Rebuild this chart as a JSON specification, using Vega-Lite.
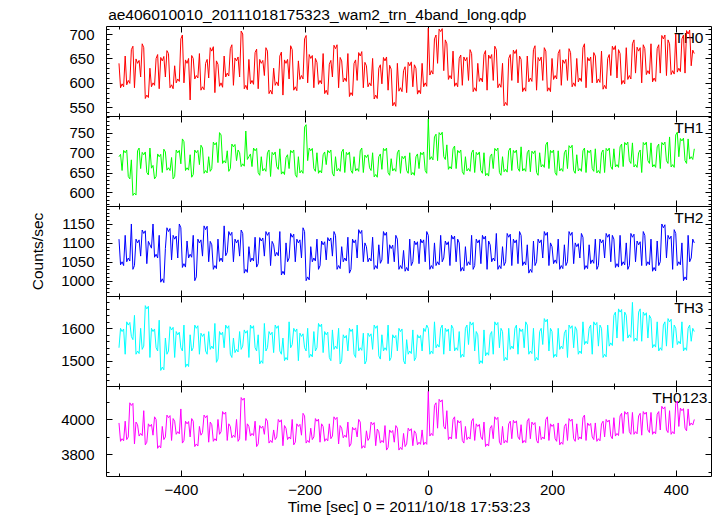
{
"$schema": "https://vega.github.io/schema/vega-lite/v6.json",
"padding": {"left": 30, "top": 7, "right": 5, "bottom": 2},
"title": {"text": "ae406010010_20111018175323_wam2_trn_4band_long.qdp", "anchor": "start", "fontSize": 15.5, "fontWeight": "normal", "color": "#000", "offset": 2, "dx": 78},
"spacing": 0,
"bounds": "flush",
"config": {
  "font": "Liberation Sans",
  "view": {"stroke": "#000", "strokeWidth": 1},
  "axis": {"grid": false, "domain": false, "labelFont": "Liberation Sans", "labelFontSize": 15, "labelColor": "#000", "tickColor": "#000", "tickWidth": 1, "titleFont": "Liberation Sans", "titleFontSize": 15.5, "titleFontWeight": "normal", "titleColor": "#000", "format": "d"},
  "title": {"font": "Liberation Sans", "fontWeight": "normal", "color": "#000"}
},
"datasets": {"lc": [
{"t":-500,"a":640,"b":690,"c":1110,"d":1540,"e":3980},
{"t":-495,"a":598,"b":655,"c":1050,"d":1590,"e":3890},
{"t":-490,"a":655,"b":700,"c":1120,"d":1520,"e":3990},
{"t":-485,"a":605,"b":640,"c":1060,"d":1610,"e":3900},
{"t":-480,"a":668,"b":682,"c":1150,"d":1575,"e":4080},
{"t":-475,"a":590,"b":598,"c":1040,"d":1640,"e":3860},
{"t":-470,"a":640,"b":705,"c":1100,"d":1530,"e":3970},
{"t":-465,"a":612,"b":660,"c":1065,"d":1600,"e":3920},
{"t":-460,"a":672,"b":695,"c":1125,"d":1545,"e":4050},
{"t":-455,"a":575,"b":650,"c":1045,"d":1660,"e":3870},
{"t":-450,"a":630,"b":712,"c":1095,"d":1510,"e":3960},
{"t":-445,"a":600,"b":668,"c":1150,"d":1590,"e":3910},
{"t":-440,"a":650,"b":640,"c":1070,"d":1540,"e":4000},
{"t":-435,"a":588,"b":690,"c":1120,"d":1625,"e":3850},
{"t":-430,"a":645,"b":650,"c":1005,"d":1480,"e":3960},
{"t":-425,"a":612,"b":702,"c":1085,"d":1570,"e":3900},
{"t":-420,"a":660,"b":662,"c":1130,"d":1530,"e":4010},
{"t":-415,"a":596,"b":688,"c":1055,"d":1595,"e":3880},
{"t":-410,"a":635,"b":640,"c":1110,"d":1510,"e":3990},
{"t":-405,"a":608,"b":700,"c":1060,"d":1580,"e":3930},
{"t":-400,"a":690,"b":672,"c":1140,"d":1540,"e":4060},
{"t":-395,"a":600,"b":728,"c":1045,"d":1610,"e":3880},
{"t":-390,"a":640,"b":662,"c":1105,"d":1490,"e":3975},
{"t":-385,"a":565,"b":695,"c":1070,"d":1580,"e":3900},
{"t":-380,"a":650,"b":645,"c":1120,"d":1540,"e":3990},
{"t":-375,"a":615,"b":700,"c":1010,"d":1600,"e":3860},
{"t":-370,"a":660,"b":670,"c":1100,"d":1520,"e":3960},
{"t":-365,"a":592,"b":712,"c":1065,"d":1575,"e":3925},
{"t":-360,"a":640,"b":655,"c":1135,"d":1530,"e":4010},
{"t":-355,"a":610,"b":690,"c":1050,"d":1590,"e":3870},
{"t":-350,"a":665,"b":660,"c":1095,"d":1545,"e":3970},
{"t":-345,"a":580,"b":720,"c":1040,"d":1615,"e":3890},
{"t":-340,"a":638,"b":675,"c":1110,"d":1505,"e":4000},
{"t":-335,"a":600,"b":745,"c":1060,"d":1580,"e":3930},
{"t":-330,"a":655,"b":680,"c":1145,"d":1540,"e":4030},
{"t":-325,"a":620,"b":705,"c":1075,"d":1600,"e":3880},
{"t":-320,"a":670,"b":660,"c":1120,"d":1520,"e":3960},
{"t":-315,"a":595,"b":715,"c":1050,"d":1570,"e":3910},
{"t":-310,"a":645,"b":680,"c":1100,"d":1535,"e":4000},
{"t":-305,"a":612,"b":700,"c":1065,"d":1590,"e":3890},
{"t":-300,"a":700,"b":672,"c":1125,"d":1545,"e":4110},
{"t":-295,"a":595,"b":755,"c":1030,"d":1585,"e":3880},
{"t":-290,"a":648,"b":690,"c":1090,"d":1510,"e":3960},
{"t":-285,"a":605,"b":665,"c":1060,"d":1600,"e":3920},
{"t":-280,"a":662,"b":705,"c":1115,"d":1540,"e":3990},
{"t":-275,"a":588,"b":650,"c":1045,"d":1580,"e":3860},
{"t":-270,"a":640,"b":690,"c":1105,"d":1500,"e":3950},
{"t":-265,"a":615,"b":660,"c":1065,"d":1615,"e":3915},
{"t":-260,"a":665,"b":700,"c":1120,"d":1540,"e":3990},
{"t":-255,"a":585,"b":640,"c":1040,"d":1580,"e":3880},
{"t":-250,"a":630,"b":695,"c":1095,"d":1525,"e":3940},
{"t":-245,"a":602,"b":665,"c":1075,"d":1600,"e":3900},
{"t":-240,"a":655,"b":710,"c":1130,"d":1530,"e":3985},
{"t":-235,"a":575,"b":652,"c":1025,"d":1570,"e":3850},
{"t":-230,"a":640,"b":688,"c":1100,"d":1510,"e":3950},
{"t":-225,"a":608,"b":660,"c":1060,"d":1620,"e":3900},
{"t":-220,"a":668,"b":700,"c":1115,"d":1550,"e":4000},
{"t":-215,"a":592,"b":645,"c":1050,"d":1590,"e":3870},
{"t":-210,"a":645,"b":690,"c":1100,"d":1500,"e":3960},
{"t":-205,"a":615,"b":655,"c":1060,"d":1575,"e":3910},
{"t":-200,"a":690,"b":765,"c":1130,"d":1540,"e":4020},
{"t":-195,"a":600,"b":680,"c":1010,"d":1600,"e":3880},
{"t":-190,"a":650,"b":705,"c":1090,"d":1520,"e":3950},
{"t":-185,"a":590,"b":660,"c":1060,"d":1590,"e":3900},
{"t":-180,"a":642,"b":700,"c":1110,"d":1540,"e":3990},
{"t":-175,"a":605,"b":655,"c":1040,"d":1605,"e":3870},
{"t":-170,"a":660,"b":695,"c":1095,"d":1525,"e":3960},
{"t":-165,"a":585,"b":670,"c":1055,"d":1580,"e":3890},
{"t":-160,"a":638,"b":700,"c":1105,"d":1510,"e":3975},
{"t":-155,"a":612,"b":648,"c":1065,"d":1595,"e":3905},
{"t":-150,"a":670,"b":690,"c":1120,"d":1545,"e":4000},
{"t":-145,"a":590,"b":660,"c":1040,"d":1600,"e":3860},
{"t":-140,"a":645,"b":702,"c":1090,"d":1500,"e":3950},
{"t":-135,"a":610,"b":650,"c":1060,"d":1570,"e":3910},
{"t":-130,"a":660,"b":695,"c":1115,"d":1530,"e":3985},
{"t":-125,"a":580,"b":655,"c":1030,"d":1590,"e":3860},
{"t":-120,"a":640,"b":690,"c":1100,"d":1520,"e":3940},
{"t":-115,"a":605,"b":660,"c":1060,"d":1610,"e":3900},
{"t":-110,"a":655,"b":705,"c":1125,"d":1540,"e":3985},
{"t":-105,"a":590,"b":650,"c":1050,"d":1585,"e":3850},
{"t":-100,"a":635,"b":688,"c":1090,"d":1500,"e":3935},
{"t":-95,"a":600,"b":662,"c":1060,"d":1575,"e":3895},
{"t":-90,"a":650,"b":700,"c":1115,"d":1535,"e":3970},
{"t":-85,"a":575,"b":645,"c":1040,"d":1600,"e":3850},
{"t":-80,"a":630,"b":690,"c":1095,"d":1515,"e":3930},
{"t":-75,"a":598,"b":658,"c":1055,"d":1580,"e":3880},
{"t":-70,"a":645,"b":705,"c":1120,"d":1540,"e":3965},
{"t":-65,"a":585,"b":650,"c":1045,"d":1610,"e":3840},
{"t":-60,"a":628,"b":685,"c":1085,"d":1510,"e":3925},
{"t":-55,"a":560,"b":660,"c":1050,"d":1570,"e":3870},
{"t":-50,"a":640,"b":700,"c":1110,"d":1530,"e":3950},
{"t":-45,"a":590,"b":648,"c":1040,"d":1590,"e":3840},
{"t":-40,"a":625,"b":685,"c":1080,"d":1500,"e":3920},
{"t":-35,"a":580,"b":655,"c":1035,"d":1565,"e":3860},
{"t":-30,"a":635,"b":700,"c":1110,"d":1530,"e":3935},
{"t":-25,"a":592,"b":650,"c":1050,"d":1595,"e":3850},
{"t":-20,"a":630,"b":690,"c":1095,"d":1510,"e":3920},
{"t":-15,"a":585,"b":660,"c":1045,"d":1570,"e":3870},
{"t":-10,"a":640,"b":695,"c":1100,"d":1530,"e":3940},
{"t":-5,"a":600,"b":655,"c":1050,"d":1590,"e":3870},
{"t":0,"a":712,"b":785,"c":1120,"d":1600,"e":4160},
{"t":5,"a":625,"b":690,"c":1040,"d":1530,"e":3920},
{"t":10,"a":690,"b":740,"c":1100,"d":1620,"e":4080},
{"t":15,"a":640,"b":680,"c":1050,"d":1550,"e":3950},
{"t":20,"a":705,"b":745,"c":1120,"d":1600,"e":4100},
{"t":25,"a":625,"b":690,"c":1060,"d":1520,"e":3960},
{"t":30,"a":680,"b":720,"c":1095,"d":1590,"e":4050},
{"t":35,"a":615,"b":665,"c":1040,"d":1530,"e":3900},
{"t":40,"a":665,"b":710,"c":1110,"d":1600,"e":4000},
{"t":45,"a":600,"b":660,"c":1050,"d":1540,"e":3890},
{"t":50,"a":650,"b":700,"c":1100,"d":1590,"e":3980},
{"t":55,"a":595,"b":652,"c":1035,"d":1520,"e":3880},
{"t":60,"a":645,"b":690,"c":1090,"d":1600,"e":3960},
{"t":65,"a":605,"b":660,"c":1050,"d":1550,"e":3900},
{"t":70,"a":660,"b":700,"c":1120,"d":1610,"e":3990},
{"t":75,"a":590,"b":650,"c":1040,"d":1530,"e":3880},
{"t":80,"a":640,"b":695,"c":1100,"d":1580,"e":3960},
{"t":85,"a":610,"b":655,"c":1045,"d":1500,"e":3900},
{"t":90,"a":658,"b":700,"c":1110,"d":1595,"e":3985},
{"t":95,"a":585,"b":648,"c":1030,"d":1525,"e":3860},
{"t":100,"a":650,"b":690,"c":1095,"d":1580,"e":3950},
{"t":105,"a":605,"b":660,"c":1060,"d":1520,"e":3890},
{"t":110,"a":668,"b":705,"c":1125,"d":1610,"e":4000},
{"t":115,"a":598,"b":650,"c":1040,"d":1540,"e":3870},
{"t":120,"a":640,"b":690,"c":1090,"d":1590,"e":3960},
{"t":125,"a":560,"b":658,"c":1050,"d":1510,"e":3880},
{"t":130,"a":650,"b":705,"c":1115,"d":1600,"e":3975},
{"t":135,"a":605,"b":655,"c":1040,"d":1545,"e":3890},
{"t":140,"a":660,"b":700,"c":1100,"d":1600,"e":3980},
{"t":145,"a":600,"b":660,"c":1045,"d":1520,"e":3900},
{"t":150,"a":648,"b":715,"c":1120,"d":1590,"e":3970},
{"t":155,"a":590,"b":660,"c":1050,"d":1540,"e":3880},
{"t":160,"a":655,"b":700,"c":1095,"d":1610,"e":3990},
{"t":165,"a":610,"b":652,"c":1030,"d":1530,"e":3890},
{"t":170,"a":668,"b":698,"c":1105,"d":1600,"e":3970},
{"t":175,"a":585,"b":650,"c":1050,"d":1510,"e":3880},
{"t":180,"a":645,"b":700,"c":1100,"d":1590,"e":3960},
{"t":185,"a":605,"b":670,"c":1060,"d":1550,"e":3900},
{"t":190,"a":665,"b":720,"c":1120,"d":1620,"e":4000},
{"t":195,"a":590,"b":660,"c":1040,"d":1530,"e":3880},
{"t":200,"a":650,"b":700,"c":1090,"d":1590,"e":3960},
{"t":205,"a":615,"b":650,"c":1055,"d":1520,"e":3890},
{"t":210,"a":660,"b":705,"c":1110,"d":1600,"e":3980},
{"t":215,"a":595,"b":660,"c":1040,"d":1545,"e":3870},
{"t":220,"a":640,"b":700,"c":1095,"d":1585,"e":3960},
{"t":225,"a":605,"b":660,"c":1050,"d":1510,"e":3880},
{"t":230,"a":662,"b":712,"c":1120,"d":1600,"e":3990},
{"t":235,"a":600,"b":655,"c":1045,"d":1540,"e":3890},
{"t":240,"a":650,"b":695,"c":1090,"d":1595,"e":3975},
{"t":245,"a":610,"b":660,"c":1060,"d":1530,"e":3900},
{"t":250,"a":672,"b":705,"c":1115,"d":1620,"e":4010},
{"t":255,"a":590,"b":650,"c":1040,"d":1560,"e":3880},
{"t":260,"a":645,"b":700,"c":1095,"d":1600,"e":3965},
{"t":265,"a":600,"b":660,"c":1055,"d":1520,"e":3900},
{"t":270,"a":655,"b":710,"c":1110,"d":1610,"e":3980},
{"t":275,"a":608,"b":655,"c":1040,"d":1545,"e":3890},
{"t":280,"a":665,"b":700,"c":1100,"d":1600,"e":3975},
{"t":285,"a":595,"b":650,"c":1060,"d":1520,"e":3900},
{"t":290,"a":650,"b":705,"c":1115,"d":1610,"e":3985},
{"t":295,"a":615,"b":665,"c":1050,"d":1555,"e":3905},
{"t":300,"a":668,"b":710,"c":1110,"d":1640,"e":4010},
{"t":305,"a":610,"b":670,"c":1045,"d":1570,"e":3920},
{"t":310,"a":660,"b":715,"c":1120,"d":1650,"e":4020},
{"t":315,"a":605,"b":665,"c":1050,"d":1560,"e":3920},
{"t":320,"a":672,"b":720,"c":1100,"d":1640,"e":4030},
{"t":325,"a":615,"b":680,"c":1040,"d":1580,"e":3930},
{"t":330,"a":680,"b":725,"c":1115,"d":1680,"e":4040},
{"t":335,"a":620,"b":670,"c":1050,"d":1570,"e":3930},
{"t":340,"a":665,"b":700,"c":1095,"d":1650,"e":4020},
{"t":345,"a":600,"b":650,"c":1040,"d":1560,"e":3910},
{"t":350,"a":670,"b":720,"c":1120,"d":1640,"e":4030},
{"t":355,"a":625,"b":680,"c":1050,"d":1570,"e":3940},
{"t":360,"a":680,"b":725,"c":1110,"d":1630,"e":4040},
{"t":365,"a":610,"b":670,"c":1035,"d":1550,"e":3930},
{"t":370,"a":670,"b":715,"c":1105,"d":1620,"e":4030},
{"t":375,"a":620,"b":660,"c":1050,"d":1540,"e":3940},
{"t":380,"a":690,"b":720,"c":1140,"d":1610,"e":4060},
{"t":385,"a":615,"b":680,"c":1060,"d":1545,"e":3940},
{"t":390,"a":680,"b":740,"c":1110,"d":1620,"e":4050},
{"t":395,"a":625,"b":670,"c":1030,"d":1540,"e":3930},
{"t":400,"a":700,"b":745,"c":1125,"d":1600,"e":4090},
{"t":405,"a":630,"b":690,"c":1050,"d":1560,"e":3960},
{"t":410,"a":690,"b":730,"c":1100,"d":1620,"e":4050},
{"t":415,"a":620,"b":680,"c":1010,"d":1540,"e":3950},
{"t":420,"a":700,"b":735,"c":1120,"d":1600,"e":4060},
{"t":425,"a":635,"b":690,"c":1060,"d":1560,"e":3980},
{"t":430,"a":660,"b":710,"c":1100,"d":1590,"e":4000},
{"t":-497.5,"a":590,"b":696,"c":1042,"d":1600,"e":3875},
{"t":-492.5,"a":592,"b":706,"c":1040,"d":1598,"e":3878},
{"t":-487.5,"a":596,"b":707,"c":1050,"d":1620,"e":3885},
{"t":-482.5,"a":599,"b":634,"c":1052,"d":1618,"e":4095},
{"t":-477.5,"a":675,"b":592,"c":1030,"d":1565,"e":4092},
{"t":-472.5,"a":649,"b":593,"c":1110,"d":1520,"e":3985},
{"t":-467.5,"a":646,"b":712,"c":1108,"d":1522,"e":3905},
{"t":-462.5,"a":680,"b":701,"c":1134,"d":1535,"e":3908},
{"t":-457.5,"a":568,"b":702,"c":1132,"d":1670,"e":3855},
{"t":-452.5,"a":570,"b":644,"c":1104,"d":1668,"e":3975},
{"t":-447.5,"a":592,"b":661,"c":1086,"d":1600,"e":3972},
{"t":-442.5,"a":595,"b":634,"c":1062,"d":1598,"e":4015},
{"t":-437.5,"a":658,"b":697,"c":1060,"d":1530,"e":3835},
{"t":-432.5,"a":652,"b":696,"c":996,"d":1470,"e":3838},
{"t":-427.5,"a":654,"b":709,"c":995,"d":1472,"e":3885},
{"t":-422.5,"a":666,"b":656,"c":1140,"d":1520,"e":4025},
{"t":-417.5,"a":590,"b":655,"c":1138,"d":1605,"e":4022},
{"t":-412.5,"a":588,"b":634,"c":1120,"d":1603,"e":4005},
{"t":-407.5,"a":600,"b":707,"c":1118,"d":1590,"e":3915},
{"t":-402.5,"a":603,"b":706,"c":1150,"d":1588,"e":3918},
{"t":-397.5,"a":698,"b":735,"c":1035,"d":1530,"e":3865},
{"t":-392.5,"a":647,"b":655,"c":1036,"d":1480,"e":3990},
{"t":-387.5,"a":650,"b":656,"c":1060,"d":1482,"e":3988},
{"t":-382.5,"a":656,"b":638,"c":1062,"d":1530,"e":4005},
{"t":-377.5,"a":608,"b":707,"c":1000,"d":1610,"e":3845},
{"t":-372.5,"a":610,"b":706,"c":1110,"d":1608,"e":3848},
{"t":-367.5,"a":585,"b":719,"c":1108,"d":1585,"e":3910},
{"t":-362.5,"a":586,"b":648,"c":1145,"d":1583,"e":4025},
{"t":-357.5,"a":648,"b":649,"c":1144,"d":1520,"e":4022},
{"t":-352.5,"a":672,"b":653,"c":1104,"d":1535,"e":3985},
{"t":-347.5,"a":674,"b":727,"c":1030,"d":1537,"e":3875},
{"t":-342.5,"a":645,"b":726,"c":1032,"d":1495,"e":3878},
{"t":-337.5,"a":593,"b":751,"c":1051,"d":1590,"e":3915},
{"t":-332.5,"a":591,"b":673,"c":1050,"d":1588,"e":4045},
{"t":-327.5,"a":612,"b":674,"c":1066,"d":1610,"e":4042},
{"t":-322.5,"a":614,"b":653,"c":1130,"d":1608,"e":3975},
{"t":-317.5,"a":678,"b":722,"c":1128,"d":1510,"e":3895},
{"t":-312.5,"a":651,"b":721,"c":1110,"d":1525,"e":3898},
{"t":-307.5,"a":653,"b":707,"c":1108,"d":1527,"e":3875},
{"t":-302.5,"a":706,"b":665,"c":1134,"d":1535,"e":4125},
{"t":-297.5,"a":588,"b":666,"c":1020,"d":1595,"e":4122},
{"t":-292.5,"a":586,"b":683,"c":1022,"d":1593,"e":3975},
{"t":-287.5,"a":598,"b":697,"c":1050,"d":1610,"e":3905},
{"t":-282.5,"a":597,"b":712,"c":1052,"d":1608,"e":3908},
{"t":-277.5,"a":669,"b":711,"c":1036,"d":1530,"e":3845},
{"t":-272.5,"a":648,"b":643,"c":1114,"d":1490,"e":3965},
{"t":-267.5,"a":646,"b":654,"c":1113,"d":1492,"e":3962},
{"t":-262.5,"a":672,"b":653,"c":1130,"d":1530,"e":4005},
{"t":-257.5,"a":578,"b":707,"c":1128,"d":1590,"e":3865},
{"t":-252.5,"a":577,"b":701,"c":1104,"d":1588,"e":3868},
{"t":-247.5,"a":595,"b":702,"c":1065,"d":1610,"e":3885},
{"t":-242.5,"a":594,"b":658,"c":1066,"d":1608,"e":4000},
{"t":-237.5,"a":663,"b":646,"c":1015,"d":1520,"e":3998},
{"t":-232.5,"a":647,"b":645,"c":1016,"d":1500,"e":3965},
{"t":-227.5,"a":648,"b":695,"c":1050,"d":1502,"e":3885},
{"t":-222.5,"a":676,"b":706,"c":1125,"d":1540,"e":3888},
{"t":-217.5,"a":585,"b":707,"c":1123,"d":1600,"e":3855},
{"t":-212.5,"a":584,"b":638,"c":1110,"d":1598,"e":3975},
{"t":-207.5,"a":607,"b":649,"c":1108,"d":1585,"e":3972},
{"t":-202.5,"a":608,"b":648,"c":1140,"d":1583,"e":4035},
{"t":-197.5,"a":697,"b":771,"c":1000,"d":1530,"e":3865},
{"t":-192.5,"a":658,"b":712,"c":1002,"d":1510,"e":3868},
{"t":-187.5,"a":656,"b":711,"c":1050,"d":1512,"e":3885},
{"t":-182.5,"a":650,"b":653,"c":1052,"d":1530,"e":4005},
{"t":-177.5,"a":597,"b":648,"c":1030,"d":1615,"e":4002},
{"t":-172.5,"a":598,"b":649,"c":1105,"d":1613,"e":3975},
{"t":-167.5,"a":578,"b":702,"c":1103,"d":1590,"e":3875},
{"t":-162.5,"a":576,"b":706,"c":1114,"d":1588,"e":3878},
{"t":-157.5,"a":646,"b":707,"c":1113,"d":1500,"e":3890},
{"t":-152.5,"a":677,"b":641,"c":1130,"d":1535,"e":4015},
{"t":-147.5,"a":678,"b":654,"c":1030,"d":1537,"e":4012},
{"t":-142.5,"a":652,"b":653,"c":1032,"d":1490,"e":3965},
{"t":-137.5,"a":602,"b":709,"c":1050,"d":1580,"e":3895},
{"t":-132.5,"a":603,"b":701,"c":1052,"d":1578,"e":3898},
{"t":-127.5,"a":572,"b":702,"c":1020,"d":1600,"e":3845},
{"t":-122.5,"a":574,"b":648,"c":1110,"d":1598,"e":3955},
{"t":-117.5,"a":647,"b":654,"c":1108,"d":1510,"e":3952},
{"t":-112.5,"a":662,"b":653,"c":1135,"d":1530,"e":4000},
{"t":-107.5,"a":664,"b":712,"c":1133,"d":1532,"e":3835},
{"t":-102.5,"a":642,"b":694,"c":1100,"d":1490,"e":3838},
{"t":-97.5,"a":592,"b":695,"c":1050,"d":1585,"e":3880},
{"t":-92.5,"a":594,"b":655,"c":1052,"d":1583,"e":3985},
{"t":-87.5,"a":567,"b":639,"c":1030,"d":1610,"e":3982},
{"t":-82.5,"a":568,"b":638,"c":1032,"d":1608,"e":3945},
{"t":-77.5,"a":637,"b":697,"c":1046,"d":1505,"e":3865},
{"t":-72.5,"a":652,"b":711,"c":1130,"d":1530,"e":3868},
{"t":-67.5,"a":653,"b":712,"c":1128,"d":1532,"e":3825},
{"t":-62.5,"a":636,"b":643,"c":1095,"d":1500,"e":3940},
{"t":-57.5,"a":553,"b":654,"c":1094,"d":1580,"e":3937},
{"t":-52.5,"a":552,"b":653,"c":1120,"d":1578,"e":3965},
{"t":-47.5,"a":583,"b":707,"c":1030,"d":1600,"e":3825},
{"t":-42.5,"a":582,"b":691,"c":1032,"d":1598,"e":3828},
{"t":-37.5,"a":633,"b":692,"c":1025,"d":1490,"e":3845},
{"t":-32.5,"a":642,"b":648,"c":1026,"d":1520,"e":3950},
{"t":-27.5,"a":643,"b":644,"c":1040,"d":1522,"e":3947},
{"t":-22.5,"a":637,"b":643,"c":1105,"d":1500,"e":3935},
{"t":-17.5,"a":577,"b":697,"c":1103,"d":1580,"e":3855},
{"t":-12.5,"a":578,"b":701,"c":1110,"d":1578,"e":3858},
{"t":-7.5,"a":592,"b":702,"c":1108,"d":1600,"e":3855},
{"t":-2.5,"a":593,"b":648,"c":1130,"d":1610,"e":3858},
{"t":2.5,"a":616,"b":683,"c":1030,"d":1520,"e":3905},
{"t":7.5,"a":618,"b":682,"c":1032,"d":1522,"e":3908},
{"t":12.5,"a":698,"b":747,"c":1040,"d":1540,"e":4095},
{"t":17.5,"a":710,"b":751,"c":1042,"d":1542,"e":4115},
{"t":22.5,"a":711,"b":752,"c":1050,"d":1610,"e":4112},
{"t":27.5,"a":688,"b":683,"c":1105,"d":1600,"e":3945},
{"t":32.5,"a":607,"b":658,"c":1103,"d":1598,"e":3885},
{"t":37.5,"a":608,"b":659,"c":1120,"d":1610,"e":3888},
{"t":42.5,"a":593,"b":717,"c":1118,"d":1530,"e":4015},
{"t":47.5,"a":592,"b":706,"c":1110,"d":1532,"e":3995},
{"t":52.5,"a":657,"b":707,"c":1025,"d":1510,"e":3992},
{"t":57.5,"a":653,"b":645,"c":1026,"d":1512,"e":3865},
{"t":62.5,"a":652,"b":654,"c":1040,"d":1610,"e":3885},
{"t":67.5,"a":668,"b":653,"c":1042,"d":1620,"e":3888},
{"t":72.5,"a":582,"b":707,"c":1030,"d":1618,"e":4005},
{"t":77.5,"a":583,"b":701,"c":1110,"d":1590,"e":3975},
{"t":82.5,"a":603,"b":702,"c":1108,"d":1490,"e":3972},
{"t":87.5,"a":602,"b":648,"c":1120,"d":1492,"e":3885},
{"t":92.5,"a":666,"b":642,"c":1118,"d":1515,"e":3845},
{"t":97.5,"a":657,"b":641,"c":1105,"d":1517,"e":3848},
{"t":102.5,"a":658,"b":697,"c":1050,"d":1590,"e":3965},
{"t":107.5,"a":675,"b":711,"c":1052,"d":1620,"e":4015},
{"t":112.5,"a":590,"b":712,"c":1030,"d":1618,"e":4012},
{"t":117.5,"a":591,"b":643,"c":1032,"d":1600,"e":3855},
{"t":122.5,"a":553,"b":652,"c":1040,"d":1500,"e":3865},
{"t":127.5,"a":554,"b":651,"c":1125,"d":1502,"e":3868},
{"t":132.5,"a":658,"b":712,"c":1123,"d":1535,"e":3990},
{"t":137.5,"a":667,"b":706,"c":1110,"d":1537,"e":3995},
{"t":142.5,"a":668,"b":707,"c":1108,"d":1610,"e":3992},
{"t":147.5,"a":655,"b":653,"c":1130,"d":1600,"e":3885},
{"t":152.5,"a":582,"b":654,"c":1040,"d":1598,"e":3865},
{"t":157.5,"a":583,"b":653,"c":1042,"d":1620,"e":3868},
{"t":162.5,"a":602,"b":707,"c":1020,"d":1520,"e":4005},
{"t":167.5,"a":603,"b":704,"c":1022,"d":1522,"e":3985},
{"t":172.5,"a":676,"b":705,"c":1040,"d":1500,"e":3982},
{"t":177.5,"a":652,"b":643,"c":1110,"d":1502,"e":3865},
{"t":182.5,"a":653,"b":664,"c":1108,"d":1600,"e":3885},
{"t":187.5,"a":672,"b":663,"c":1130,"d":1630,"e":3888},
{"t":192.5,"a":583,"b":727,"c":1128,"d":1628,"e":4015},
{"t":197.5,"a":582,"b":706,"c":1100,"d":1600,"e":3975},
{"t":202.5,"a":607,"b":707,"c":1045,"d":1510,"e":3972},
{"t":207.5,"a":608,"b":643,"c":1046,"d":1512,"e":3875},
{"t":212.5,"a":668,"b":654,"c":1030,"d":1535,"e":3855},
{"t":217.5,"a":647,"b":653,"c":1032,"d":1537,"e":3858},
{"t":222.5,"a":648,"b":707,"c":1040,"d":1595,"e":3975},
{"t":227.5,"a":670,"b":718,"c":1130,"d":1610,"e":4005},
{"t":232.5,"a":592,"b":719,"c":1128,"d":1608,"e":4002},
{"t":237.5,"a":593,"b":648,"c":1100,"d":1605,"e":3875},
{"t":242.5,"a":602,"b":654,"c":1098,"d":1520,"e":3885},
{"t":247.5,"a":603,"b":653,"c":1125,"d":1522,"e":3888},
{"t":252.5,"a":680,"b":712,"c":1030,"d":1550,"e":4025},
{"t":257.5,"a":652,"b":706,"c":1032,"d":1552,"e":3980},
{"t":262.5,"a":653,"b":707,"c":1045,"d":1610,"e":3977},
{"t":267.5,"a":662,"b":653,"c":1046,"d":1620,"e":3885},
{"t":272.5,"a":600,"b":649,"c":1030,"d":1618,"e":3875},
{"t":277.5,"a":601,"b":648,"c":1110,"d":1610,"e":3878},
{"t":282.5,"a":587,"b":707,"c":1108,"d":1510,"e":3990},
{"t":287.5,"a":588,"b":711,"c":1125,"d":1512,"e":4000},
{"t":292.5,"a":658,"b":712,"c":1123,"d":1545,"e":3997},
{"t":297.5,"a":675,"b":658,"c":1120,"d":1547,"e":3890},
{"t":302.5,"a":676,"b":664,"c":1035,"d":1650,"e":3905},
{"t":307.5,"a":668,"b":663,"c":1036,"d":1660,"e":3908},
{"t":312.5,"a":597,"b":722,"c":1040,"d":1658,"e":4035},
{"t":317.5,"a":598,"b":726,"c":1042,"d":1650,"e":4045},
{"t":322.5,"a":607,"b":727,"c":1030,"d":1570,"e":4042},
{"t":327.5,"a":608,"b":673,"c":1125,"d":1572,"e":3915},
{"t":332.5,"a":688,"b":664,"c":1123,"d":1560,"e":3915},
{"t":337.5,"a":673,"b":663,"c":1105,"d":1562,"e":3918},
{"t":342.5,"a":672,"b":707,"c":1103,"d":1660,"e":4035},
{"t":347.5,"a":678,"b":726,"c":1130,"d":1650,"e":4045},
{"t":352.5,"a":617,"b":727,"c":1040,"d":1648,"e":4042},
{"t":357.5,"a":618,"b":673,"c":1042,"d":1640,"e":3925},
{"t":362.5,"a":602,"b":664,"c":1025,"d":1540,"e":3915},
{"t":367.5,"a":603,"b":663,"c":1026,"d":1542,"e":3918},
{"t":372.5,"a":678,"b":722,"c":1040,"d":1530,"e":4045},
{"t":377.5,"a":697,"b":726,"c":1150,"d":1532,"e":4075},
{"t":382.5,"a":698,"b":727,"c":1148,"d":1620,"e":4072},
{"t":387.5,"a":688,"b":673,"c":1120,"d":1630,"e":3925},
{"t":392.5,"a":617,"b":664,"c":1118,"d":1628,"e":3915},
{"t":397.5,"a":618,"b":663,"c":1135,"d":1610,"e":3918},
{"t":402.5,"a":622,"b":752,"c":1040,"d":1550,"e":4105},
{"t":407.5,"a":623,"b":736,"c":1042,"d":1552,"e":4065},
{"t":412.5,"a":698,"b":737,"c":1000,"d":1530,"e":4062},
{"t":417.5,"a":707,"b":673,"c":1002,"d":1532,"e":3935},
{"t":422.5,"a":708,"b":684,"c":1050,"d":1610,"e":3965},
{"t":427.5,"a":667,"b":683,"c":1110,"d":1600,"e":3968}
]},
"data": {"name": "lc"},
"vconcat": [
{
 "width": 605, "height": 90,
 "layer": [
  {"mark": {"type": "line", "color": "#ff0000", "strokeWidth": 1, "clip": true},
   "encoding": {
    "x": {"field": "t", "type": "quantitative", "scale": {"domain": [-521, 457], "nice": false, "zero": false}, "axis": {"orient": "bottom", "values": [-400,-200,0,200,400], "labels": false, "tickSize": -6, "title": null}},
    "y": {"field": "a", "type": "quantitative", "scale": {"domain": [532.2, 716.4], "nice": false, "zero": false}, "axis": {"orient": "left", "values": [550,600,650,700], "tickSize": -6, "labelPadding": 18, "title": null}}}},
  {"mark": {"type": "line", "opacity": 0},
   "encoding": {
    "x": {"field": "t", "type": "quantitative", "axis": {"orient": "top", "values": [-400,-200,0,200,400], "labels": false, "tickSize": -6, "title": "TH0", "titleX": 597, "titleY": 16, "titleAlign": "right", "titleBaseline": "alphabetic", "titleAngle": 0}},
    "y": {"field": "a", "type": "quantitative", "axis": {"orient": "right", "values": [550,600,650,700], "labels": false, "tickSize": -6, "title": null}}}},
  {"mark": {"type": "line", "opacity": 0},
   "encoding": {
    "x": {"field": "t", "type": "quantitative", "axis": {"orient": "bottom", "values": [-500,-300,-100,100,300], "labels": false, "tickSize": -3, "title": null}},
    "y": {"field": "a", "type": "quantitative", "axis": {"orient": "left", "values": [540,560,570,580,590,610,620,630,640,660,670,680,690,710], "labels": false, "tickSize": -3, "title": null}}}},
  {"mark": {"type": "line", "opacity": 0},
   "encoding": {
    "x": {"field": "t", "type": "quantitative", "axis": {"orient": "top", "values": [-500,-300,-100,100,300], "labels": false, "tickSize": -3, "title": null}},
    "y": {"field": "a", "type": "quantitative", "axis": {"orient": "right", "values": [540,560,570,580,590,610,620,630,640,660,670,680,690,710], "labels": false, "tickSize": -3, "title": null}}}}
 ],
 "resolve": {"axis": {"x": "independent", "y": "independent"}}
},
{
 "width": 605, "height": 90,
 "layer": [
  {"mark": {"type": "line", "color": "#00ff00", "strokeWidth": 1, "clip": true},
   "encoding": {
    "x": {"field": "t", "type": "quantitative", "scale": {"domain": [-521, 457], "nice": false, "zero": false}, "axis": {"orient": "bottom", "values": [-400,-200,0,200,400], "labels": false, "tickSize": -6, "title": null}},
    "y": {"field": "b", "type": "quantitative", "scale": {"domain": [565.3, 793], "nice": false, "zero": false}, "axis": {"orient": "left", "values": [600,650,700,750], "tickSize": -6, "labelPadding": 18, "title": null}}}},
  {"mark": {"type": "line", "opacity": 0},
   "encoding": {
    "x": {"field": "t", "type": "quantitative", "axis": {"orient": "top", "values": [-400,-200,0,200,400], "labels": false, "tickSize": -6, "title": "TH1", "titleX": 597, "titleY": 16, "titleAlign": "right", "titleBaseline": "alphabetic", "titleAngle": 0}},
    "y": {"field": "b", "type": "quantitative", "axis": {"orient": "right", "values": [600,650,700,750], "labels": false, "tickSize": -6, "title": null}}}},
  {"mark": {"type": "line", "opacity": 0},
   "encoding": {
    "x": {"field": "t", "type": "quantitative", "axis": {"orient": "bottom", "values": [-500,-300,-100,100,300], "labels": false, "tickSize": -3, "title": null}},
    "y": {"field": "b", "type": "quantitative", "axis": {"orient": "left", "values": [570,580,590,610,620,630,640,660,670,680,690,710,720,730,740,760,770,780,790], "labels": false, "tickSize": -3, "title": null}}}},
  {"mark": {"type": "line", "opacity": 0},
   "encoding": {
    "x": {"field": "t", "type": "quantitative", "axis": {"orient": "top", "values": [-500,-300,-100,100,300], "labels": false, "tickSize": -3, "title": null}},
    "y": {"field": "b", "type": "quantitative", "axis": {"orient": "right", "values": [570,580,590,610,620,630,640,660,670,680,690,710,720,730,740,760,770,780,790], "labels": false, "tickSize": -3, "title": null}}}}
 ],
 "resolve": {"axis": {"x": "independent", "y": "independent"}}
},
{
 "width": 605, "height": 90,
 "layer": [
  {"mark": {"type": "line", "color": "#0000ff", "strokeWidth": 1, "clip": true},
   "encoding": {
    "x": {"field": "t", "type": "quantitative", "scale": {"domain": [-521, 457], "nice": false, "zero": false}, "axis": {"orient": "bottom", "values": [-400,-200,0,200,400], "labels": false, "tickSize": -6, "title": null}},
    "y": {"field": "c", "type": "quantitative", "scale": {"domain": [959.5, 1197.6], "nice": false, "zero": false}, "axis": {"orient": "left", "values": [1000,1050,1100,1150], "tickSize": -6, "labelPadding": 18, "title": "Counts/sec", "titlePadding": 15}}}},
  {"mark": {"type": "line", "opacity": 0},
   "encoding": {
    "x": {"field": "t", "type": "quantitative", "axis": {"orient": "top", "values": [-400,-200,0,200,400], "labels": false, "tickSize": -6, "title": "TH2", "titleX": 597, "titleY": 16, "titleAlign": "right", "titleBaseline": "alphabetic", "titleAngle": 0}},
    "y": {"field": "c", "type": "quantitative", "axis": {"orient": "right", "values": [1000,1050,1100,1150], "labels": false, "tickSize": -6, "title": null}}}},
  {"mark": {"type": "line", "opacity": 0},
   "encoding": {
    "x": {"field": "t", "type": "quantitative", "axis": {"orient": "bottom", "values": [-500,-300,-100,100,300], "labels": false, "tickSize": -3, "title": null}},
    "y": {"field": "c", "type": "quantitative", "axis": {"orient": "left", "values": [970,980,990,1010,1020,1030,1040,1060,1070,1080,1090,1110,1120,1130,1140,1160,1170,1180,1190], "labels": false, "tickSize": -3, "title": null}}}},
  {"mark": {"type": "line", "opacity": 0},
   "encoding": {
    "x": {"field": "t", "type": "quantitative", "axis": {"orient": "top", "values": [-500,-300,-100,100,300], "labels": false, "tickSize": -3, "title": null}},
    "y": {"field": "c", "type": "quantitative", "axis": {"orient": "right", "values": [970,980,990,1010,1020,1030,1040,1060,1070,1080,1090,1110,1120,1130,1140,1160,1170,1180,1190], "labels": false, "tickSize": -3, "title": null}}}}
 ],
 "resolve": {"axis": {"x": "independent", "y": "independent"}}
},
{
 "width": 605, "height": 90,
 "layer": [
  {"mark": {"type": "line", "color": "#00ffff", "strokeWidth": 1, "clip": true},
   "encoding": {
    "x": {"field": "t", "type": "quantitative", "scale": {"domain": [-521, 457], "nice": false, "zero": false}, "axis": {"orient": "bottom", "values": [-400,-200,0,200,400], "labels": false, "tickSize": -6, "title": null}},
    "y": {"field": "d", "type": "quantitative", "scale": {"domain": [1422, 1699.7], "nice": false, "zero": false}, "axis": {"orient": "left", "values": [1500,1600], "tickSize": -6, "labelPadding": 18, "title": null}}}},
  {"mark": {"type": "line", "opacity": 0},
   "encoding": {
    "x": {"field": "t", "type": "quantitative", "axis": {"orient": "top", "values": [-400,-200,0,200,400], "labels": false, "tickSize": -6, "title": "TH3", "titleX": 597, "titleY": 16, "titleAlign": "right", "titleBaseline": "alphabetic", "titleAngle": 0}},
    "y": {"field": "d", "type": "quantitative", "axis": {"orient": "right", "values": [1500,1600], "labels": false, "tickSize": -6, "title": null}}}},
  {"mark": {"type": "line", "opacity": 0},
   "encoding": {
    "x": {"field": "t", "type": "quantitative", "axis": {"orient": "bottom", "values": [-500,-300,-100,100,300], "labels": false, "tickSize": -3, "title": null}},
    "y": {"field": "d", "type": "quantitative", "axis": {"orient": "left", "values": [1440,1460,1480,1520,1540,1560,1580,1620,1640,1660,1680], "labels": false, "tickSize": -3, "title": null}}}},
  {"mark": {"type": "line", "opacity": 0},
   "encoding": {
    "x": {"field": "t", "type": "quantitative", "axis": {"orient": "top", "values": [-500,-300,-100,100,300], "labels": false, "tickSize": -3, "title": null}},
    "y": {"field": "d", "type": "quantitative", "axis": {"orient": "right", "values": [1440,1460,1480,1520,1540,1560,1580,1620,1640,1660,1680], "labels": false, "tickSize": -3, "title": null}}}}
 ],
 "resolve": {"axis": {"x": "independent", "y": "independent"}}
},
{
 "width": 605, "height": 90,
 "layer": [
  {"mark": {"type": "line", "color": "#ff00ff", "strokeWidth": 1, "clip": true},
   "encoding": {
    "x": {"field": "t", "type": "quantitative", "scale": {"domain": [-521, 457], "nice": false, "zero": false}, "axis": {"orient": "bottom", "values": [-400,-200,0,200,400], "tickSize": -6, "labelPadding": 12, "title": "Time [sec] 0 = 2011/10/18 17:53:23", "titlePadding": 2}},
    "y": {"field": "e", "type": "quantitative", "scale": {"domain": [3677, 4191], "nice": false, "zero": false}, "axis": {"orient": "left", "values": [3800,4000], "tickSize": -6, "labelPadding": 18, "title": null}}}},
  {"mark": {"type": "line", "opacity": 0},
   "encoding": {
    "x": {"field": "t", "type": "quantitative", "axis": {"orient": "top", "values": [-400,-200,0,200,400], "labels": false, "tickSize": -6, "title": "TH0123", "titleX": 601, "titleY": 16, "titleAlign": "right", "titleBaseline": "alphabetic", "titleAngle": 0}},
    "y": {"field": "e", "type": "quantitative", "axis": {"orient": "right", "values": [3800,4000], "labels": false, "tickSize": -6, "title": null}}}},
  {"mark": {"type": "line", "opacity": 0},
   "encoding": {
    "x": {"field": "t", "type": "quantitative", "axis": {"orient": "bottom", "values": [-500,-300,-100,100,300], "labels": false, "tickSize": -3, "title": null}},
    "y": {"field": "e", "type": "quantitative", "axis": {"orient": "left", "values": [3700,3900,4100], "labels": false, "tickSize": -3, "title": null}}}},
  {"mark": {"type": "line", "opacity": 0},
   "encoding": {
    "x": {"field": "t", "type": "quantitative", "axis": {"orient": "top", "values": [-500,-300,-100,100,300], "labels": false, "tickSize": -3, "title": null}},
    "y": {"field": "e", "type": "quantitative", "axis": {"orient": "right", "values": [3700,3900,4100], "labels": false, "tickSize": -3, "title": null}}}}
 ],
 "resolve": {"axis": {"x": "independent", "y": "independent"}}
}
]
}
